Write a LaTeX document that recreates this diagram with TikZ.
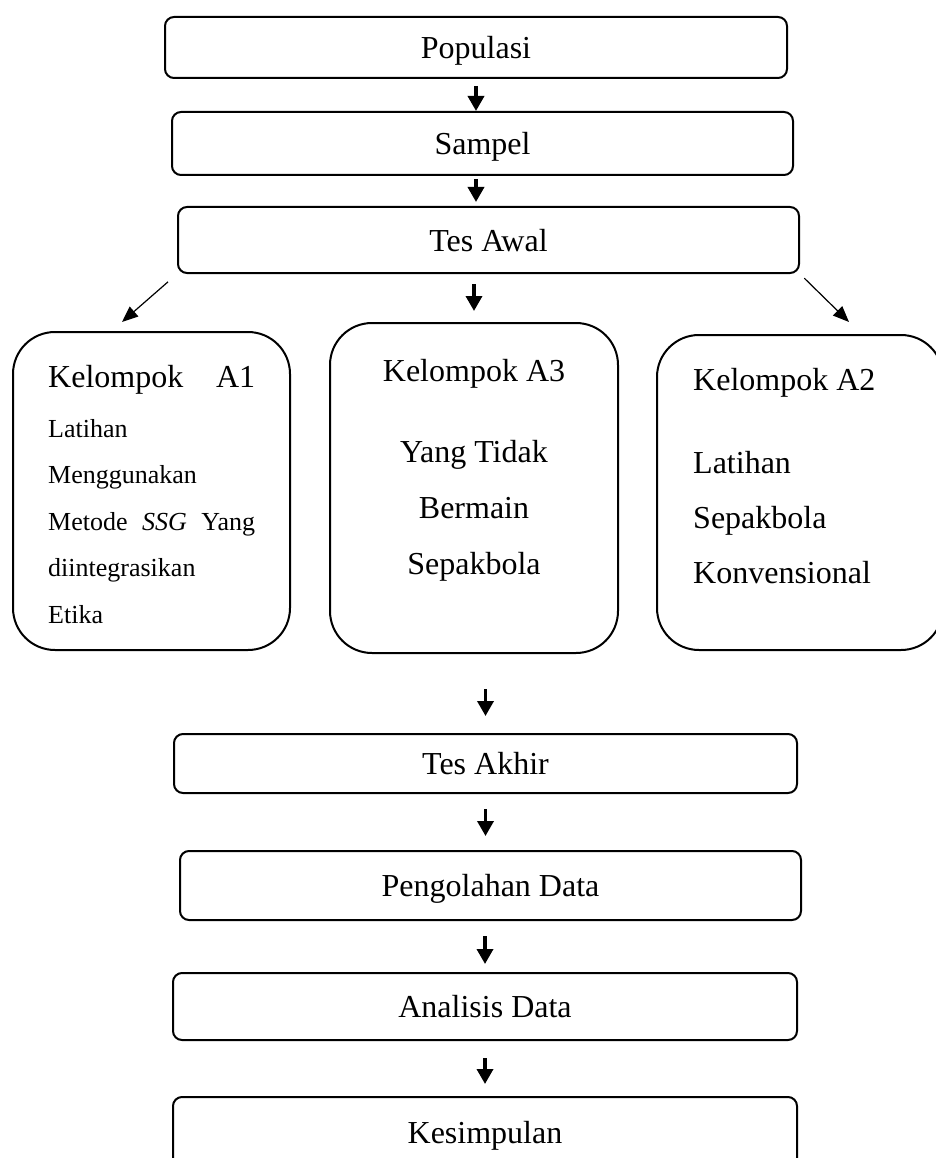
\documentclass[tikz,border=0pt]{standalone}
\usepackage{fontspec}
\setmainfont{Liberation Serif}
\usetikzlibrary{arrows.meta}

\begin{document}
\begin{tikzpicture}[x=1pt,y=-1pt,stage/.style={draw,line width=2pt,rounded corners=9pt,inner sep=0pt,text depth=0pt,font=\fontsize{32}{38}\selectfont},group/.style={draw,line width=2pt,rounded corners=42pt,inner sep=0pt},grptext/.style={inner sep=0pt,font=\fontsize{32}{56}\selectfont},flow/.style={-{Triangle[length=15pt,width=16pt]},line width=3.5pt},diag/.style={-{Triangle[length=16pt,width=13pt]},line width=1.2pt}]
\useasboundingbox (0,0) rectangle (936,1158);
\clip (0,0) rectangle (936,1158);

\node[stage,minimum width=622,minimum height=61] (pop) at (476,47.5) {Populasi};
\node[stage,minimum width=621,minimum height=63] (samp) at (482.5,143.5) {Sampel};
\node[stage,minimum width=621,minimum height=66] (awal) at (488.5,240) {Tes Awal};

\node[group,minimum width=277,minimum height=318] (a1) at (151.5,491) {};
\node[group,minimum width=288,minimum height=330] (a3) at (474,488) {};
\node[group,minimum width=286,minimum height=315] (a2) at (800,492.5) {};

\node[anchor=north west,inner sep=0pt,align=left,font=\fontsize{26}{46.5}\selectfont] (a1t) at (48,365) {{\fontsize{32}{38}\selectfont\makebox[207pt][s]{Kelompok A1}}\\[3.5pt]
  Latihan\\ Menggunakan\\ \makebox[207pt][s]{Metode \textit{SSG} Yang}\\ diintegrasikan\\ Etika};
\node[grptext,anchor=north,align=center] (a3t) at (474,359) {Kelompok A3\\[25pt] Yang Tidak\\ Bermain\\ Sepakbola};
\node[grptext,anchor=north west,align=left,font=\fontsize{32}{55}\selectfont] (a2t) at (693,368) {Kelompok A2\\[28pt] Latihan\\ Sepakbola\\ Konvensional};

\node[stage,minimum width=623,minimum height=59] (akhir) at (485.5,763.5) {Tes Akhir};
\node[stage,minimum width=621,minimum height=69] (olah) at (490.5,885.5) {Pengolahan Data};
\node[stage,minimum width=624,minimum height=67] (anal) at (485,1006.5) {Analisis Data};
\node[stage,minimum width=624,minimum height=70] (simp) at (485,1132) {Kesimpulan};

% arrows
\draw[flow,shorten <=7pt] (pop.south) -- (pop.south |- samp.north);
\draw[flow,shorten <=3pt,shorten >=4pt] (pop.south |- samp.south) -- (pop.south |- awal.north);
\draw[flow,shorten <=10pt,shorten >=11pt] (a3.north |- awal.south) -- (a3.north);
\coordinate (lend) at (122,322);
\coordinate (rend) at (849,322);
\draw[diag,shorten <=12pt] (awal.south west) -- (lend);
\draw[diag,shorten <=6pt] (awal.south east) -- (rend);
\draw[flow,shorten <=35pt,shorten >=17pt] (akhir.north |- a3.south) -- (akhir.north);
\draw[flow,shorten <=15pt,shorten >=14pt] (akhir.south) -- (akhir.south |- olah.north);
\draw[flow,shorten <=15pt,shorten >=8pt] (anal.north |- olah.south) -- (anal.north);
\draw[flow,shorten <=17pt,shorten >=12pt] (anal.south) -- (anal.south |- simp.north);
\end{tikzpicture}
\end{document}
